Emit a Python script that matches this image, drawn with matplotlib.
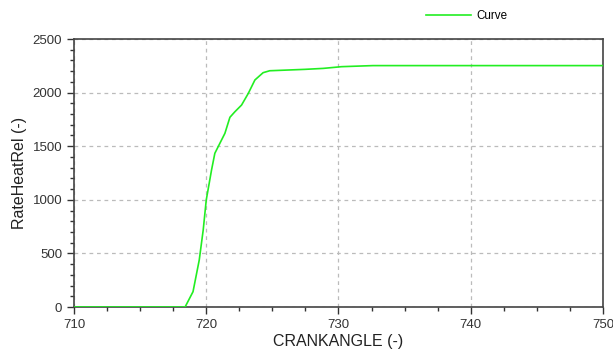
import numpy as np
import matplotlib
matplotlib.use('Agg')
import matplotlib.pyplot as plt
from matplotlib.ticker import MultipleLocator

plt.rcParams['font.family'] = ['Liberation Sans', 'DejaVu Sans']

# Values
crank_angle = [710, 718.4, 719.0, 719.47, 719.77, 720.0, 720.4, 720.65, 721.03,
               721.41, 721.79, 722.17, 722.67, 723.18, 723.68, 724.3, 724.8,
               727.46, 728.85, 730.23, 732.6, 740, 750]
heat_rel = [0, 0, 143, 438, 718, 998, 1278, 1434, 1527,
            1620, 1770, 1822, 1884, 1993, 2118, 2186, 2204,
            2217, 2226, 2242, 2252, 2252, 2252]
series_label = 'Curve'

fig = plt.figure(figsize=(6.13, 3.56), dpi=100)
ax = fig.add_axes([0.1207, 0.1376, 0.863, 0.7528])

ax.plot(crank_angle, heat_rel, color='#22ee22', linewidth=1.2, label=series_label,
        zorder=3)

ax.set_xlim(710, 750)
ax.set_ylim(0, 2500)
ax.xaxis.set_major_locator(MultipleLocator(10))
ax.xaxis.set_minor_locator(MultipleLocator(2.5))
ax.yaxis.set_major_locator(MultipleLocator(500))
ax.yaxis.set_minor_locator(MultipleLocator(100))

ax.grid(True, which='major', color='#bbbbbb', linestyle=(0, (3, 3)), linewidth=0.9)
ax.tick_params(which='major', direction='out', length=5, width=1,
               color='#333333', labelsize=9.5, labelcolor='#333333')
ax.tick_params(which='minor', direction='out', length=3, width=1, color='#333333')
for side in ['left', 'bottom', 'top', 'right']:
    ax.spines[side].set_color('#444444')
    ax.spines[side].set_linewidth(1.2)

ax.set_xlabel('CRANKANGLE (-)', fontsize=11.5, color='#222222', labelpad=2)
ax.set_ylabel('RateHeatRel (-)', fontsize=11.5, color='#222222', labelpad=4)

ax.legend(loc='center right', bbox_to_anchor=(0.835, 0.955),
          bbox_transform=fig.transFigure, frameon=False, fontsize=8.4,
          handlelength=3.9, handletextpad=0.4, borderaxespad=0)

fig.savefig('out.png', dpi=100)
